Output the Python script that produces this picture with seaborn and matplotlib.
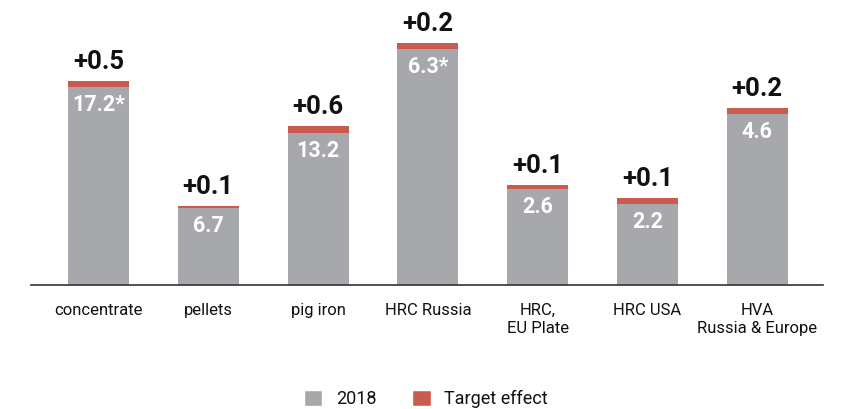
import matplotlib
matplotlib.use("Agg")
import matplotlib.pyplot as plt
from matplotlib.patches import Patch
import seaborn as sns
import pandas as pd

# Categories and bar heights (relative index scale) with their printed labels
categories = ["concentrate", "pellets", "pig iron", "HRC Russia",
              "HRC,\nEU Plate", "HRC USA", "HVA\nRussia & Europe"]
height_2018 = [198, 77, 152, 236, 96, 81, 171]
height_effect = [6, 2.5, 7.5, 6, 4, 6.5, 6.5]
label_2018 = ["17.2*", "6.7", "13.2", "6.3*", "2.6", "2.2", "4.6"]
label_effect = ["+0.5", "+0.1", "+0.6", "+0.2", "+0.1", "+0.1", "+0.2"]

GREY = "#a7a8ab"
RED = "#cb5b4f"

sns.set_theme(style="white")
plt.rcParams["font.family"] = ["Roboto", "DejaVu Sans"]

df = pd.DataFrame({
    "category": categories,
    "base": height_2018,
    "total": [b + e for b, e in zip(height_2018, height_effect)],
})

fig = plt.figure(figsize=(8.42, 4.09), dpi=100)
ax = fig.add_axes([31 / 842, 1 - 285 / 409, (823 - 31) / 842, (285 - 5) / 409])

sns.barplot(data=df, x="category", y="total", color=RED, width=0.556,
            saturation=1, ax=ax, order=categories, linewidth=0)
sns.barplot(data=df, x="category", y="base", color=GREY, width=0.556,
            saturation=1, ax=ax, order=categories, linewidth=0)

for i, (b, t) in enumerate(zip(df["base"], df["total"])):
    ax.text(i, t + 7, label_effect[i], ha="center", va="bottom",
            fontsize=18.5, fontweight="bold", color="#111111")
    ax.text(i, b - 7, label_2018[i], ha="center", va="top",
            fontsize=15.5, fontweight="bold", color="white")

ax.set_xlim(-0.615, 6.60)
ax.set_ylim(0, 280)
ax.set_xlabel("")
ax.set_ylabel("")
ax.set_yticks([])
ax.tick_params(axis="x", length=0, pad=13, labelsize=12, colors="#111111")
for lbl in ax.get_xticklabels():
    lbl.set_linespacing(1.25)
for side in ["top", "right", "left"]:
    ax.spines[side].set_visible(False)
ax.spines["bottom"].set_color("#333333")
ax.spines["bottom"].set_linewidth(1.2)

handles = [Patch(facecolor=GREY, label="2018"),
           Patch(facecolor=RED, label="Target effect")]
fig.legend(handles=handles, loc="center", bbox_to_anchor=(0.506, 1 - 399 / 409),
           ncol=2, frameon=False, fontsize=13, handlelength=1.0,
           handleheight=1.0, handletextpad=0.75, columnspacing=2.0,
           labelcolor="#111111")

fig.savefig("out.png", dpi=100)
